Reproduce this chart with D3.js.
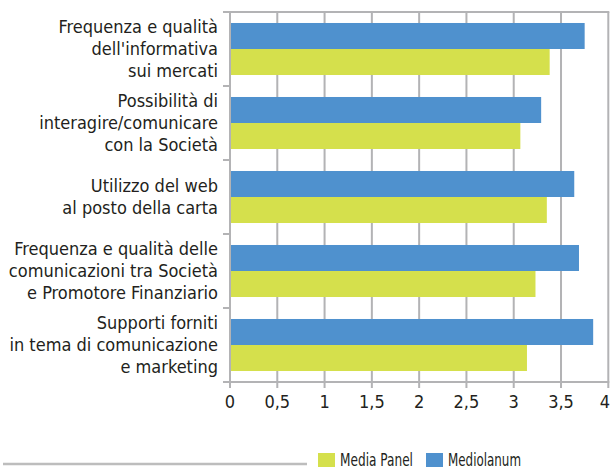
<!DOCTYPE html>
<html>
<head>
<meta charset="utf-8">
<script src="https://cdn.jsdelivr.net/npm/d3@7.9.0/dist/d3.min.js"></script>
<style>
  body { margin: 0; background: #fff; }
  svg { display: block; font-family: "Liberation Sans Narrow", "DejaVu Sans Condensed", sans-serif; }
</style>
</head>
<body>
<svg width="611" height="469"></svg>
<script>
// categorie (righe di etichetta)
const categories = [
  ["Frequenza e qualità", "dell'informativa", "sui mercati"],
  ["Possibilità di", "interagire/comunicare", "con la Società"],
  ["Utilizzo del web", "al posto della carta"],
  ["Frequenza e qualità delle", "comunicazioni tra Società", "e Promotore Finanziario"],
  ["Supporti forniti", "in tema di comunicazione", "e marketing"]
];
const mediolanum = [3.75, 3.29, 3.64, 3.69, 3.84];
const mediaPanel = [3.38, 3.07, 3.35, 3.23, 3.14];
const series = ["Mediolanum", "Media Panel"];
const xTicks = [0, 0.5, 1, 1.5, 2, 2.5, 3, 3.5, 4];
const legendItems = ["Media Panel", "Mediolanum"];

const colors = { "Mediolanum": "#4f91ce", "Media Panel": "#d5e04c" };
const grid = "#b3b3b5";

const svg = d3.select('svg');
const margin = { left: 230, right: 3, top: 12, bottom: 87 };
const W = 611, H = 469;

let x = d3.scaleLinear().domain([0, 4]).range([margin.left, 608.3]);
let y = d3.scaleBand().domain(d3.range(categories.length))
  .range([margin.top, H - margin.bottom]).paddingInner(0.297).paddingOuter(0.1485);
let y1 = d3.scaleBand().domain(series).range([0, y.bandwidth()]);

// griglia verticale
svg.append('g').selectAll('line').data(xTicks).join('line')
  .attr('x1', d => x(d)).attr('x2', d => x(d))
  .attr('y1', margin.top).attr('y2', H - margin.bottom + 6)
  .attr('stroke', grid).attr('stroke-width', 2);

// bordi orizzontali: top, separatori, base
let step = y.step();
let seps = d3.range(categories.length + 1).map(i => margin.top + i * step);
svg.append('g').selectAll('line').data(seps).join('line')
  .attr('x1', margin.left - 7)
  .attr('x2', (d, i) => (i === 0 || i === seps.length - 1) ? x(4) + 1 : margin.left)
  .attr('y1', d => d).attr('y2', d => d)
  .attr('stroke', grid).attr('stroke-width', 2);

// barre
const rows = categories.map((c, i) => ({ i, Mediolanum: mediolanum[i], "Media Panel": mediaPanel[i] }));
svg.append('g').selectAll('g').data(rows).join('g')
  .attr('transform', d => `translate(0,${y(d.i)})`)
  .selectAll('rect').data(d => series.map(s => ({ s, v: d[s] }))).join('rect')
  .attr('x', x(0) + 1)
  .attr('y', d => y1(d.s))
  .attr('width', d => x(d.v) - x(0) - 1)
  .attr('height', y1.bandwidth())
  .attr('fill', d => colors[d.s]);

// asse sinistro
svg.append('line')
  .attr('x1', x(0)).attr('x2', x(0))
  .attr('y1', margin.top - 1).attr('y2', H - margin.bottom + 1)
  .attr('stroke', grid).attr('stroke-width', 2);

// etichette asse x (l'ultima allineata al bordo)
svg.append('g').selectAll('text').data(xTicks).join('text')
  .attr('x', (d, i) => i === xTicks.length - 1 ? 610 : x(d))
  .attr('y', 408)
  .attr('text-anchor', (d, i) => i === xTicks.length - 1 ? 'end' : 'middle')
  .attr('font-size', 18).attr('fill', '#231f20')
  .text(d => String(d).replace('.', ','));

// etichette categorie
const lh = 22;
svg.append('g').selectAll('text').data(categories).join('text')
  .attr('text-anchor', 'end')
  .attr('font-size', 18).attr('fill', '#231f20')
  .each(function (lines, i) {
    let cy = y(i) + y.bandwidth() / 2;
    let t0 = cy - (lines.length - 1) * lh / 2 + 6;
    d3.select(this).selectAll('tspan').data(lines).join('tspan')
      .attr('x', 218).attr('y', (d, k) => t0 + k * lh)
      .text(d => d);
  });

// legenda
svg.append('line').attr('x1', 3).attr('x2', 307).attr('y1', 464).attr('y2', 464)
  .attr('stroke', '#bdbdbd').attr('stroke-width', 2.5);
const legendX = [318, 426];
legendItems.forEach((s, i) => {
  svg.append('rect').attr('x', legendX[i]).attr('y', 453).attr('width', 17).attr('height', 14)
    .attr('fill', colors[s]);
  svg.append('text').attr('x', legendX[i] + 22).attr('y', 466)
    .attr('font-size', 17.5).attr('fill', '#231f20')
    .attr('textLength', 73).attr('lengthAdjust', 'spacingAndGlyphs')
    .text(s);
});
</script>
</body>
</html>
